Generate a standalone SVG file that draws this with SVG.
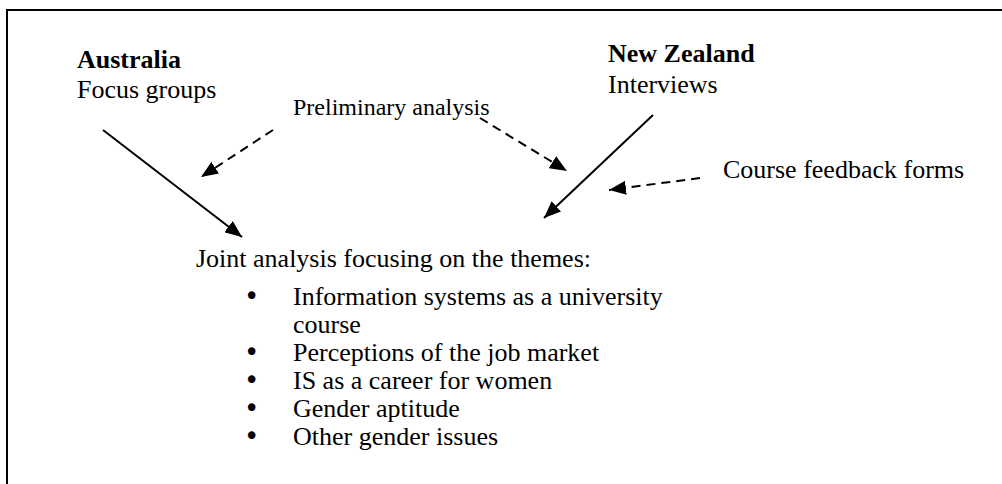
<svg xmlns="http://www.w3.org/2000/svg" width="1002" height="484" viewBox="0 0 1002 484">
<defs>
<style>
text{font-family:"Liberation Serif","Times New Roman",serif;fill:#000}
.t{font-size:26px}
.b{font-size:26px;font-weight:bold}
.s{font-size:24px}
.bu{font-family:"DejaVu Sans",sans-serif;font-size:26px}
.ln{stroke:#000;stroke-width:2;fill:none}
.d{stroke-dasharray:9,6}
</style>
<marker id="ah" markerUnits="userSpaceOnUse" markerWidth="18" markerHeight="14" refX="17" refY="7" orient="auto">
<path d="M0,0 L17,7 L0,14 Z" fill="#000"/>
</marker>
</defs>
<rect width="1002" height="484" fill="#fff"/>
<g id="frame">
<path class="ln" d="M7,484 L7,10 L1002,10"/>
</g>
<g id="australia">
<text class="b" x="77" y="68">Australia</text>
<text class="t" x="77" y="98">Focus groups</text>
</g>
<g id="preliminary">
<text class="s" x="293" y="115">Preliminary analysis</text>
</g>
<g id="newzealand">
<text class="b" x="608" y="62">New Zealand</text>
<text class="t" x="608" y="93">Interviews</text>
</g>
<g id="feedback">
<text class="t" x="723" y="178">Course feedback forms</text>
</g>
<g id="joint">
<text class="t" x="196" y="267">Joint analysis focusing on the themes:</text>
<text class="bu" x="244" y="305">•</text>
<text class="t" x="293" y="305">Information systems as a university</text>
<text class="t" x="293" y="333">course</text>
<text class="bu" x="244" y="361">•</text>
<text class="t" x="293" y="361">Perceptions of the job market</text>
<text class="bu" x="244" y="389">•</text>
<text class="t" x="293" y="389">IS as a career for women</text>
<text class="bu" x="244" y="417">•</text>
<text class="t" x="293" y="417">Gender aptitude</text>
<text class="bu" x="244" y="445">•</text>
<text class="t" x="293" y="445">Other gender issues</text>
</g>
<g id="connectors">
<line class="ln" x1="103" y1="130" x2="242" y2="237" marker-end="url(#ah)"/>
<line class="ln d" x1="273" y1="130" x2="201" y2="177" marker-end="url(#ah)"/>
<line class="ln d" x1="480" y1="118" x2="567" y2="171" marker-end="url(#ah)"/>
<line class="ln" x1="653" y1="115" x2="544" y2="218" marker-end="url(#ah)"/>
<line class="ln d" x1="700" y1="178" x2="609" y2="190" marker-end="url(#ah)"/>
</g>
</svg>
